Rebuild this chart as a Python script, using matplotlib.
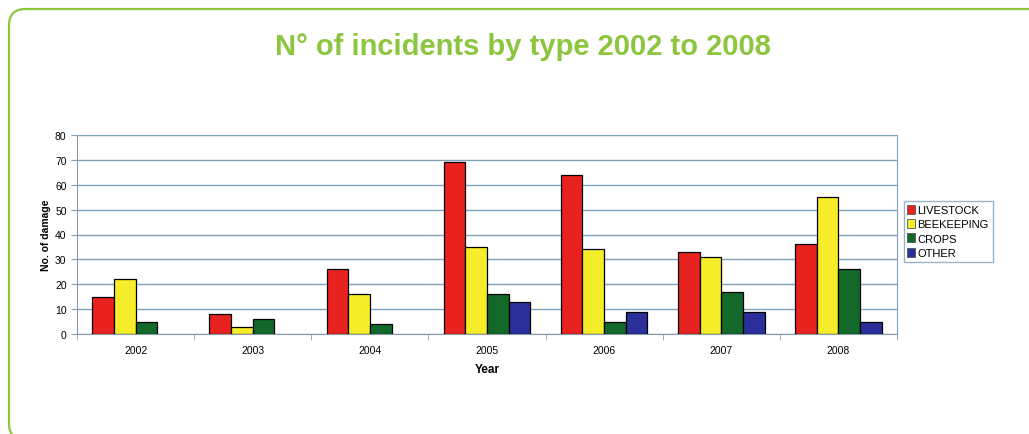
import numpy as np
import matplotlib.pyplot as plt
from matplotlib.patches import FancyBboxPatch, Patch

plt.rcParams['font.family'] = ['Liberation Sans', 'DejaVu Sans']

# incidents per year and type
years = ['2002', '2003', '2004', '2005', '2006', '2007', '2008']
livestock = [15, 8, 26, 69, 64, 33, 36]
beekeeping = [22, 3, 16, 35, 34, 31, 55]
crops = [5, 6, 4, 16, 5, 17, 26]
other = [0, 0, 0, 13, 9, 9, 5]

series = [livestock, beekeeping, crops, other]
names = ['LIVESTOCK', 'BEEKEEPING', 'CROPS', 'OTHER']
colors = ['#e8231f', '#f5ec2a', '#12692a', '#2a2f9a']

W, H = 1029, 435
fig = plt.figure(figsize=(W / 100, H / 100), dpi=100)

# green rounded frame round the whole panel (runs off the bottom and right)
green = '#8cc63f'
frame = FancyBboxPatch((9 / W, -6 / H), 1040 / W, 431 / H,
                       boxstyle='round,pad=0,rounding_size=0.016',
                       transform=fig.transFigure, fill=False,
                       edgecolor=green, linewidth=1.6, mutation_aspect=W / H)
fig.patches.append(frame)

fig.text(0.508, 0.893, 'N° of incidents by type 2002 to 2008', ha='center', va='center',
         color=green, fontsize=21, fontweight='bold',
         family=['Liberation Sans Narrow', 'Liberation Sans', 'DejaVu Sans'])

ax = fig.add_axes([77 / W, 1 - 335 / H, 820 / W, 199 / H])

x = np.arange(len(years))
bw = 0.185
for i, (vals, col) in enumerate(zip(series, colors)):
    bars = ax.bar(x + (i - 1.5) * bw, vals, width=bw, color=col, edgecolor='black',
                  linewidth=0.9, zorder=3)
    # no outline for empty bars
    for b, v in zip(bars, vals):
        if v == 0:
            b.set_visible(False)

ax.set_xlim(-0.5, len(years) - 0.5)
ax.set_ylim(0, 80)
ax.set_yticks(range(0, 81, 10))
ax.set_xticks(x)
ax.set_xticklabels(years, fontsize=7.5)
ax.set_xticks(np.arange(-0.5, len(years), 1), minor=True)
ax.tick_params(axis='x', which='major', length=0, pad=8)
ax.tick_params(axis='x', which='minor', length=4, color='#8aa0b0', direction='out')
ax.tick_params(axis='y', labelsize=7.5, length=4, color='#8aa0b0', direction='out')

grid_col = '#7fa3bd'
ax.grid(axis='y', color=grid_col, linewidth=1.0, zorder=0)
for side in ['top', 'right']:
    ax.spines[side].set_color(grid_col)
for side in ['left', 'bottom']:
    ax.spines[side].set_color('#8a9aa8')

ax.set_ylabel('No. of damage', fontsize=7.5, fontweight='bold', labelpad=3)
ax.set_xlabel('Year', fontsize=8.5, fontweight='bold', labelpad=6)

handles = [Patch(facecolor=c, edgecolor='#555555', linewidth=0.6) for c in colors]
leg = ax.legend(handles, names, loc='upper left', bbox_to_anchor=(1.008, 0.67),
                fontsize=8, frameon=True, fancybox=False, handlelength=0.7,
                handleheight=0.9, handletextpad=0.2, borderpad=0.35,
                labelspacing=0.35, borderaxespad=0)
leg.get_frame().set_edgecolor(grid_col)
leg.get_frame().set_linewidth(1.0)

fig.savefig('out.png', dpi=100)
